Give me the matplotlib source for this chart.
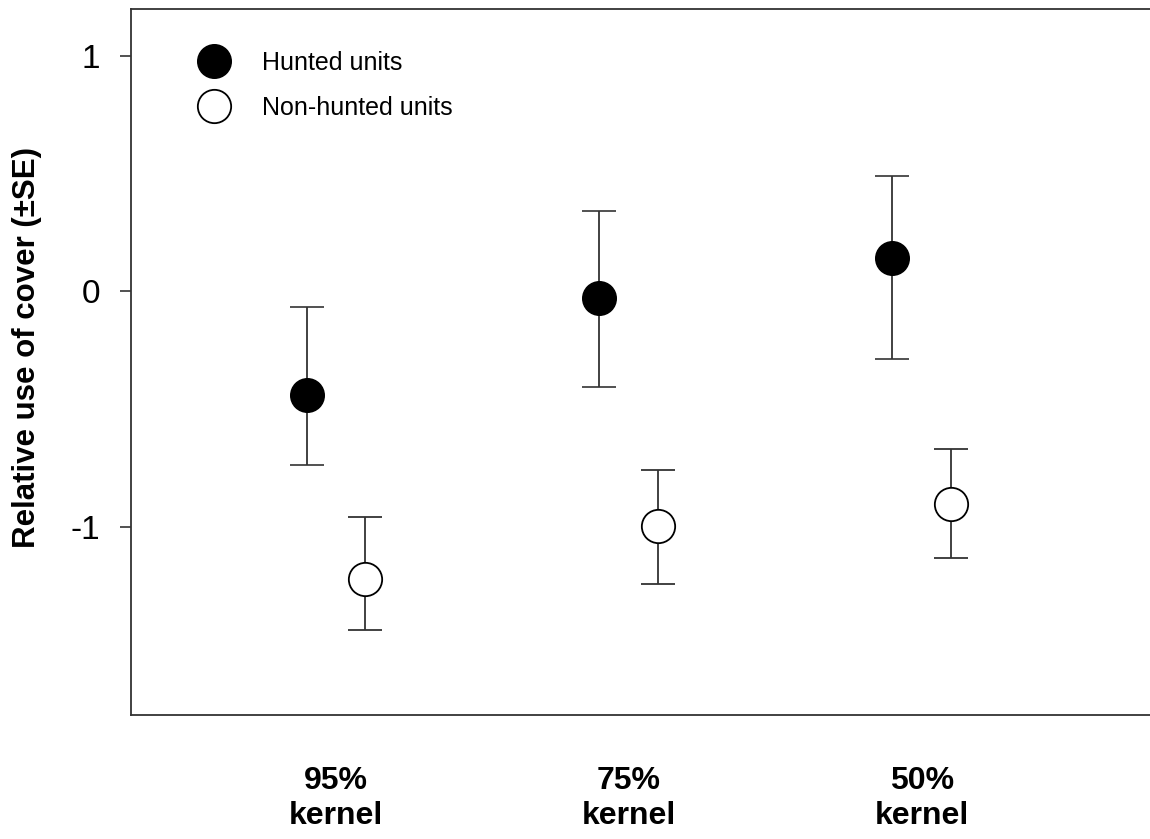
# Relative use of cover - hunted vs non-hunted units
import numpy as np
import matplotlib
matplotlib.use('Agg')
import matplotlib.pyplot as plt
from matplotlib.lines import Line2D

plt.rcParams['font.family'] = ['Liberation Sans', 'DejaVu Sans']

# Datos
categorias = ['95%\nkernel', '75%\nkernel', '50%\nkernel']
hunted_media = [-0.44, -0.03, 0.14]
hunted_sup = [-0.065, 0.343, 0.491]
hunted_inf = [-0.736, -0.406, -0.288]
nohunted_media = [-1.221, -0.996, -0.902]
nohunted_sup = [-0.960, -0.757, -0.668]
nohunted_inf = [-1.440, -1.244, -1.133]

x = np.arange(1, len(categorias) + 1)
offset = 0.1
gris = '#333333'

fig = plt.figure(figsize=(11.5, 8.39), dpi=100)
ax = fig.add_axes([0.1139, 0.1478, 0.8861, 0.8415])

# Barras de error asimetricas
err_h = [np.array(hunted_media) - np.array(hunted_inf),
         np.array(hunted_sup) - np.array(hunted_media)]
err_nh = [np.array(nohunted_media) - np.array(nohunted_inf),
          np.array(nohunted_sup) - np.array(nohunted_media)]

ax.errorbar(x - offset, hunted_media, yerr=err_h, fmt='o', color='black',
            ms=24, mfc='black', mec='black', mew=1.2,
            ecolor=gris, elinewidth=1.3, capsize=12, capthick=1.3,
            label='Hunted units', zorder=3)
ax.errorbar(x + offset, nohunted_media, yerr=err_nh, fmt='o', color='black',
            ms=24, mfc='white', mec='black', mew=1.3,
            ecolor=gris, elinewidth=1.3, capsize=12, capthick=1.3,
            label='Non-hunted units', zorder=3)

# Ejes
ax.set_xlim(0.3, 3.78)
ax.set_ylim(-1.8, 1.2)
ax.set_yticks([-1, 0, 1])
ax.set_yticklabels(['-1', '0', '1'])
ax.set_xticks(x)
ax.set_xticklabels(categorias, fontsize=23, fontweight='bold')
ax.tick_params(axis='x', length=0, pad=37)
ax.tick_params(axis='y', length=8, width=1.2, color=gris, labelsize=24, pad=14, direction='out')
ax.set_ylabel('Relative use of cover (\u00b1SE)', fontsize=22.5, fontweight='bold')
ax.yaxis.set_label_coords(-0.087, 0.52)

ax.spines['right'].set_visible(False)
for lado in ['left', 'top', 'bottom']:
    ax.spines[lado].set_color(gris)
    ax.spines[lado].set_linewidth(1.3)

# Leyenda (solo marcadores, sin barras)
handles = [Line2D([], [], ls='none', marker='o', ms=24, mfc='black', mec='black', mew=1.2),
           Line2D([], [], ls='none', marker='o', ms=24, mfc='white', mec='black', mew=1.3)]
ax.legend(handles, ['Hunted units', 'Non-hunted units'], loc='upper left',
          bbox_to_anchor=(0.041, 0.972), frameon=False, fontsize=18,
          handlelength=1.5, handletextpad=1.18, labelspacing=0.83)

fig.savefig('out.png', dpi=100)
